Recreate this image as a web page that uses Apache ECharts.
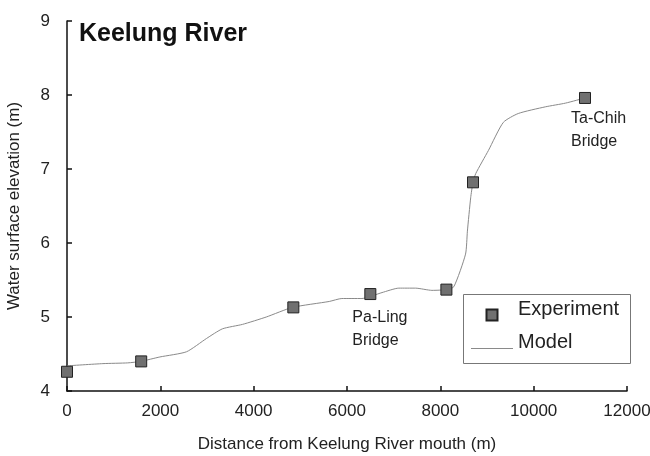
<!DOCTYPE html>
<html>
<head>
<meta charset="utf-8">
<script src="https://cdn.jsdelivr.net/npm/echarts@6/dist/echarts.min.js"></script>
<style>html,body{margin:0;padding:0;background:#fff}#c{width:650px;height:456px}</style>
</head>
<body>
<div id="c"></div>
<script>
// Experiment points (distance m, elevation m)
const expX = [0, 1590, 4850, 6500, 8130, 8700, 11100];
const expY = [4.26, 4.40, 5.13, 5.31, 5.37, 6.82, 7.96];
// Model profile
const modelX = [0, 770, 1300, 1580, 1990, 2560, 2990, 3330, 3760, 4270, 4830, 5620, 5890, 6320, 6750, 7110, 7470, 7820, 8130, 8290, 8540, 8580, 8650, 8700, 8760, 9030, 9350, 9670, 10250, 10680, 11100];
const modelY = [4.34, 4.37, 4.38, 4.40, 4.46, 4.53, 4.71, 4.84, 4.90, 5.00, 5.13, 5.21, 5.25, 5.25, 5.33, 5.39, 5.39, 5.36, 5.37, 5.41, 5.85, 6.16, 6.61, 6.82, 6.94, 7.25, 7.63, 7.75, 7.84, 7.89, 7.96];
// Bridge annotations: index into experiment points -> label
const bridgeIdx = [3, 6];
const bridgeText = ['Pa-Ling\nBridge', 'Ta-Chih\nBridge'];
const bridgeOffset = [[-12, 18], [-8, 15]];

const FONT = '"Liberation Sans", Arial, sans-serif';
const txt = '#222';

const expData = expX.map((x, i) => {
  const k = bridgeIdx.indexOf(i);
  const item = { value: [x, expY[i]] };
  if (k >= 0) {
    item.label = {
      show: true, formatter: bridgeText[k], position: bridgeOffset[k],
      align: 'left', verticalAlign: 'top', lineHeight: 23,
      fontSize: 16, fontFamily: FONT, color: txt
    };
  }
  return item;
});

const chart = echarts.init(document.getElementById('c'), null, { renderer: 'canvas' });
chart.setOption({
  animation: false,
  backgroundColor: '#fff',
  title: {
    text: 'Keelung River', left: 79, top: 22, padding: 0,
    textStyle: { fontSize: 25, fontWeight: 'bold', fontFamily: FONT, color: '#111' }
  },
  grid: { left: 67, right: 23, top: 21, bottom: 65, containLabel: false, outerBoundsMode: 'none' },
  xAxis: {
    type: 'value', min: 0, max: 12000, interval: 2000,
    name: 'Distance from Keelung River mouth (m)', nameLocation: 'middle', nameGap: 45,
    nameTextStyle: { fontSize: 17, fontFamily: FONT, color: txt },
    axisLine: { show: true, lineStyle: { color: '#111', width: 1.5 } },
    axisTick: { show: true, inside: true, length: 5, lineStyle: { color: '#111', width: 1.5 } },
    axisLabel: { fontSize: 17, fontFamily: FONT, color: txt, margin: 12, formatter: v => String(v) },
    splitLine: { show: false }
  },
  yAxis: {
    type: 'value', min: 4, max: 9, interval: 1,
    name: 'Water surface elevation (m)', nameLocation: 'middle', nameGap: 44,
    nameTextStyle: { fontSize: 17, fontFamily: FONT, color: txt },
    axisLine: { show: true, lineStyle: { color: '#111', width: 1.5 } },
    axisTick: { show: true, inside: true, length: 5, lineStyle: { color: '#111', width: 1.5 } },
    axisLabel: { fontSize: 17, fontFamily: FONT, color: txt, margin: 17 },
    splitLine: { show: false }
  },
  legend: {
    left: 471, top: 299, orient: 'vertical', padding: 0,
    itemWidth: 42, itemHeight: 11, itemGap: 11, itemTextGap: 7,
    formatter: name => '{a|' + name + '}',
    textStyle: {
      fontSize: 20, fontFamily: FONT, color: txt,
      rich: { a: { fontSize: 20, fontFamily: FONT, color: txt, padding: [0, 0, 12, 0] } }
    },
    data: [
      { name: 'Experiment', icon: 'path://M0,0H10V10H0Z', symbolKeepAspect: true },
      { name: 'Model', icon: 'path://M0,0H42V1H0Z', symbolKeepAspect: true }
    ],
    selectedMode: false
  },
  graphic: [{
    type: 'rect', left: 463, top: 294, z: 0,
    shape: { width: 167, height: 69 },
    style: { fill: '#fff', stroke: '#777', lineWidth: 1 }
  }],
  series: [
    {
      name: 'Model', type: 'line', data: modelX.map((x, i) => [x, modelY[i]]),
      symbol: 'none', smooth: 0.2,
      lineStyle: { color: '#8a8a8a', width: 1 }, itemStyle: { color: '#8a8a8a' }, z: 2
    },
    {
      name: 'Experiment', type: 'scatter', data: expData,
      symbol: 'rect', symbolSize: 11,
      itemStyle: { color: '#707070', borderColor: '#222', borderWidth: 1, opacity: 1 }, z: 3
    }
  ]
});
</script>
</body>
</html>
